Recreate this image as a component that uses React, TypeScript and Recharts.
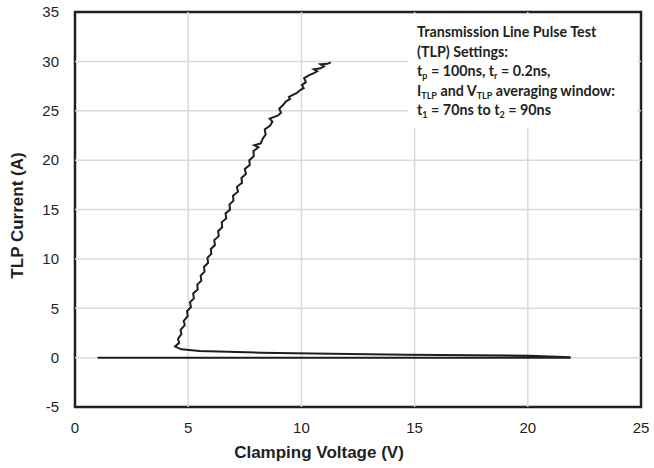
import React from "react"
import {
  Line,
  LineChart,
  ReferenceArea,
  ReferenceLine,
  XAxis,
  YAxis,
} from "recharts"

// clamping voltage (V) and TLP current (A), in sweep order
const voltage = [
  1.0, 5.0, 10.0, 15.0, 21.85,
  21.85, 20.1, 14.65, 10.5, 8.2, 5.5, 4.7, 4.42,
  4.6, 4.55, 4.7, 4.66, 4.85, 4.8, 4.98, 4.95, 5.12, 5.08, 5.25, 5.22, 5.42, 5.4,
  5.58, 5.55, 5.72, 5.7, 5.88, 5.85, 6.02, 6.0, 6.18, 6.15, 6.35, 6.32, 6.5, 6.48,
  6.68, 6.65, 6.85, 6.82, 7.0, 6.98, 7.2, 7.15, 7.38, 7.35, 7.55, 7.5, 7.72, 7.7,
  7.9, 7.88, 8.1, 7.92, 8.2, 8.3, 8.42, 8.38, 8.62, 8.72, 8.6, 8.95, 9.1, 9.02,
  9.2, 9.3, 9.5, 9.45, 9.8, 9.95, 10.1, 10.02, 10.2, 10.12, 10.35, 10.55, 10.7,
  10.55, 10.85, 11.0, 10.85, 11.15, 11.3,
]
const current = [
  0, 0, 0, 0, 0,
  0.05, 0.2, 0.3, 0.42, 0.5, 0.68, 0.84, 1.12,
  1.5, 1.9, 2.4, 2.8, 3.3, 3.7, 4.2, 4.7, 5.1, 5.6, 6.0, 6.5, 6.9, 7.4,
  7.8, 8.3, 8.7, 9.2, 9.6, 10.1, 10.5, 11.0, 11.4, 11.9, 12.3, 12.8, 13.2, 13.7,
  14.1, 14.6, 15.0, 15.5, 15.9, 16.4, 16.8, 17.3, 17.7, 18.2, 18.6, 19.1, 19.5, 20.0,
  20.4, 20.9, 21.3, 21.5, 21.7, 22.2, 22.6, 23.1, 23.5, 23.9, 24.2, 24.5, 24.8, 25.2,
  25.6, 25.9, 26.2, 26.4, 26.8, 27.1, 27.3, 27.6, 27.9, 28.3, 28.6, 28.8, 29.0,
  29.2, 29.3, 29.5, 29.7, 29.75, 29.9,
]

const xTicks = [0, 5, 10, 15, 20, 25]
const yTicks = [-5, 0, 5, 10, 15, 20, 25, 30, 35]
const xGrid = [5, 10, 15, 20]
const yGrid = [0, 5, 10, 15, 20, 25, 30]

// settings box (white, hides the gridlines behind it)
const boxX = [14.71, 24.82]
const boxY = [23.25, 34.8]

type Seg = { t: string; sub?: boolean }
const noteLines: Seg[][] = [
  [{ t: "Transmission Line Pulse Test" }],
  [{ t: "(TLP) Settings:" }],
  [
    { t: "t" }, { t: "p", sub: true }, { t: " = 100ns, t" }, { t: "r", sub: true },
    { t: " = 0.2ns," },
  ],
  [
    { t: "I" }, { t: "TLP", sub: true }, { t: " and V" }, { t: "TLP", sub: true },
    { t: " averaging window:" },
  ],
  [
    { t: "t" }, { t: "1", sub: true }, { t: " = 70ns to t" }, { t: "2", sub: true },
    { t: " = 90ns" },
  ],
]

const data = voltage.map((v, i) => ({ v, i: current[i] }))

const sans = "'Liberation Sans', Arial, sans-serif"
const ink = "#231f20"
const gridColor = "#d9d9d9"

// gridline pieces that stay outside the settings box
function gridSegments() {
  const segs: { key: string; pts: { x: number; y: number }[] }[] = []
  for (const g of xGrid) {
    const inBox = g > boxX[0] && g < boxX[1]
    if (inBox) {
      segs.push({ key: "xa" + g, pts: [{ x: g, y: -5 }, { x: g, y: boxY[0] }] })
      segs.push({ key: "xb" + g, pts: [{ x: g, y: boxY[1] }, { x: g, y: 35 }] })
    } else {
      segs.push({ key: "x" + g, pts: [{ x: g, y: -5 }, { x: g, y: 35 }] })
    }
  }
  for (const g of yGrid) {
    const inBox = g > boxY[0] && g < boxY[1]
    if (inBox) {
      segs.push({ key: "ya" + g, pts: [{ x: 0, y: g }, { x: boxX[0], y: g }] })
      segs.push({ key: "yb" + g, pts: [{ x: boxX[1], y: g }, { x: 25, y: g }] })
    } else {
      segs.push({ key: "y" + g, pts: [{ x: 0, y: g }, { x: 25, y: g }] })
    }
  }
  return segs
}

function NoteText({ viewBox }: any) {
  const { x, y } = viewBox
  return (
    <text fontFamily="Lato, sans-serif" fontWeight={700} fontSize={14.3} fill={ink}>
      {noteLines.map((segs, li) => (
        <tspan key={li} x={x + 9} y={y + 23.5 + li * 19.5}>
          {segs.map((s, si) =>
            s.sub ? (
              <tspan key={si} dy={3} fontSize={9}>{s.t}</tspan>
            ) : (
              <tspan key={si} dy={si > 0 && segs[si - 1].sub ? -3 : 0}>{s.t}</tspan>
            )
          )}
        </tspan>
      ))}
    </text>
  )
}

export default function App() {
  return (
    <div style={{ position: "absolute", left: 0, top: 0, width: 654, height: 468 }}>
      <LineChart
        width={654}
        height={468}
        data={data}
        margin={{ top: 12, right: 13, left: 0, bottom: 0 }}
      >
        <XAxis
          dataKey="v"
          type="number"
          domain={[0, 25]}
          ticks={xTicks}
          axisLine={false}
          tickLine={false}
          tickSize={0}
          tickMargin={15}
          height={61}
          tick={{ fontSize: 15, fill: ink, fontFamily: sans }}
          label={{
            content: ({ viewBox }: any) => (
              <text
                x={viewBox.x + viewBox.width / 2 - 39}
                y={viewBox.y + 51}
                textAnchor="middle"
                fontFamily={sans}
                fontWeight={700}
                fontSize={17}
                fill={ink}
              >
                Clamping Voltage (V)
              </text>
            ),
          }}
        />
        <YAxis
          dataKey="i"
          type="number"
          domain={[-5, 35]}
          ticks={yTicks}
          axisLine={false}
          tickLine={false}
          tickSize={0}
          tickMargin={16}
          width={75}
          tick={{ fontSize: 15, fill: ink, fontFamily: sans }}
          label={{
            content: ({ viewBox }: any) => {
              const cx = viewBox.x + 22.5
              const cy = viewBox.y + viewBox.height / 2 + 6
              return (
                <text
                  x={cx}
                  y={cy}
                  transform={`rotate(-90 ${cx} ${cy})`}
                  textAnchor="middle"
                  fontFamily={sans}
                  fontWeight={700}
                  fontSize={17}
                  fill={ink}
                >
                  TLP Current (A)
                </text>
              )
            },
          }}
        />
        {gridSegments().map((s) => (
          <ReferenceLine key={s.key} segment={s.pts} stroke={gridColor} strokeWidth={1.5} />
        ))}
        <ReferenceArea
          x1={boxX[0]}
          x2={boxX[1]}
          y1={boxY[0]}
          y2={boxY[1]}
          fill="#ffffff"
          fillOpacity={0}
          stroke="none"
          label={<NoteText />}
        />
        <ReferenceArea
          x1={0}
          x2={25}
          y1={-5}
          y2={35}
          fill="none"
          stroke={ink}
          strokeWidth={2.5}
        />
        <Line
          type="linear"
          dataKey="i"
          stroke="#1e1e1e"
          strokeWidth={2}
          dot={false}
          isAnimationActive={false}
        />
      </LineChart>
    </div>
  )
}
